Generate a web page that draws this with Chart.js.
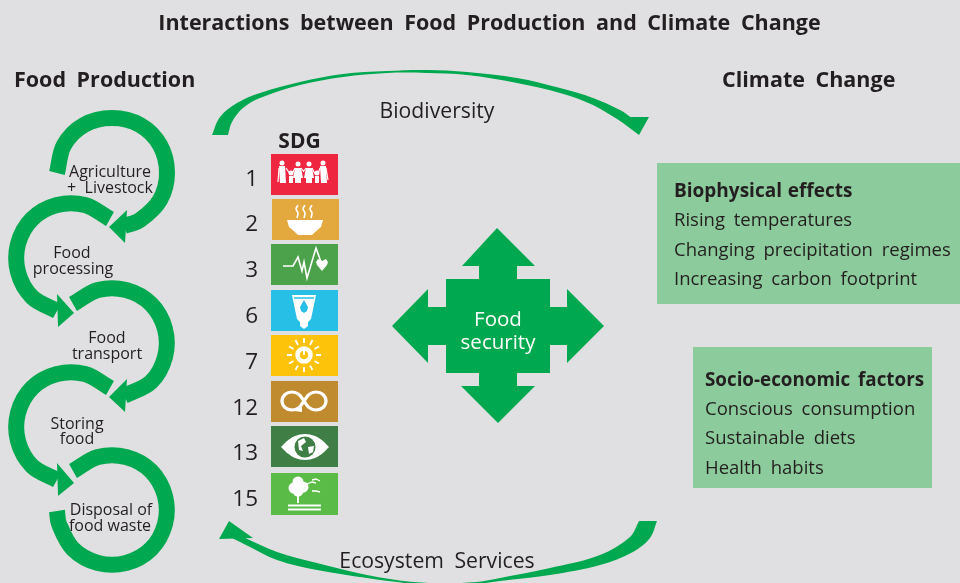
<!DOCTYPE html>
<html>
<head>
<meta charset="utf-8">
<title>Interactions between Food Production and Climate Change</title>
<script src="https://cdn.jsdelivr.net/npm/chart.js@4"></script>
<style>
html, body { margin: 0; padding: 0; background: #e0e0e2; overflow: hidden; }
canvas { display: block; }
</style>
</head>
<body>
<canvas id="diagram" width="960" height="583"></canvas>
<script>
// --- outlines, in picture units (x, y) ---
const ring1 = [[57,173],[64,145],[84,125],[112,118],[140,125],[160,145],[167,173],[160,200],[140,220],[124,226]];
const ring2 = [[110,219],[85,205],[57,205],[32,219],[18,244],[18,272],[32,297],[57,311]];
const ring3 = [[73,304],[98,290],[126,290],[151,304],[165,329],[165,357],[151,382],[124,396]];
const ring4 = [[110,388],[85,374],[57,374],[32,388],[18,413],[18,441],[32,466],[57,480]];
const ring5 = [[73,471],[98,457],[126,457],[151,471],[165,496],[165,524],[151,549],[126,563],[98,563],[73,549],[59,524],[57,511]];
const head1 = [[109,227],[127,210],[125,243]];
const head2 = [[74,313],[57,294],[58,327]];
const head3 = [[109,397],[127,379],[125,412]];
const head4 = [[74,483],[57,463],[58,496]];

// corners are listed twice so the curve stays sharp there
const biodiversityArc = [[212,135],[212,135],[220,117],[237,103],[260,93],[300,82],[343,74],[387,71],[427,70],[467,72],[517,78],[560,88],[593,98],[620,110],[632,118],[632,118],[622,122],[622,122],[593,105],[560,93],[517,83],[467,75],[427,73],[387,73],[343,77],[300,85],[260,98],[243,108],[232,122],[228,135],[228,135]];
const biodiversityHead = [[615,117],[649,117],[639,135]];
const ecosystemArc = [[657,521],[657,521],[650,538],[633,552],[600,565],[550,575],[500,581],[477,584],[445,587],[413,584],[367,578],[317,570],[277,560],[250,547],[238,541],[230,537],[230,537],[243,537],[243,537],[277,552],[317,563],[367,575],[413,582],[445,583],[477,582],[500,578],[550,568],[600,555],[630,537],[639,521],[639,521]];
const ecosystemHead = [[253,538],[229,521],[219,539]];
const securityCross = [[497,228],[462,266],[479,266],[479,279],[446,279],[446,307],[428,307],[428,289],[392,326],[428,363],[428,345],[446,345],[446,373],[479,373],[479,386],[461,386],[498,423],[535,386],[517,386],[517,373],[550,373],[550,345],[567,345],[567,363],[604,326],[567,289],[567,307],[550,307],[550,279],[517,279],[517,266],[535,266]];

const biophysicalBox = [[657,163],[960,163],[960,304],[657,304]];
const socioBox = [[693,347],[932,347],[932,488],[693,488]];

const sdgNumbers = ['1','2','3','6','7','12','13','15'];
const sdgColors = ['#ee2640','#e3a93f','#4ca14b','#27bfe6','#fdc30b','#bf8b2e','#3f7e44','#5bbb47'];
const sdgLeft = [271,272,271,271,271,271,271,271];
const sdgTop = [154,199,244,290,335,381,426,473];
const sdgBottom = [195,240,285,331,376,422,467,515];
const sdgNumberY = [178,223,269,315,361,407,452,498];

// tile icons
const familyHeads = [[282,163],[298,164],[309,164],[323,163],[291,173],[317,173]];
const familyBody1 = [[279,166],[285,166],[286,183],[280,183]];
const familyBody2 = [[295,168],[301,168],[303,178],[301,178],[301,183],[295,183],[295,178],[293,178]];
const familyBody3 = [[306,168],[312,168],[314,178],[312,178],[312,183],[306,183],[306,178],[304,178]];
const familyBody4 = [[320,166],[326,166],[327,183],[321,183]];
const familyKid1 = [[289,176],[293,176],[293,183],[289,183]];
const familyKid2 = [[315,176],[319,176],[319,183],[315,183]];
const familyArms = [[279,168],[278,182],[null,null],[286,168],[290,174],[null,null],[295,168],[292,174],[null,null],[301,168],[304,172],[null,null],[306,168],[303,172],[null,null],[312,168],[315,174],[null,null],[320,168],[318,174],[null,null],[326,168],[328,180]];
const bowl = [[287,220],[323,220],[321,227],[314,233],[312,235],[298,235],[296,233],[289,227]];
const steam = [[298,205],[296,209],[298,213],[297,218],[null,null],[305,205],[303,209],[305,213],[304,218],[null,null],[312,205],[310,209],[312,213],[311,218]];
const pulse = [[283,266],[293,266],[298,257],[302,271],[304,262],[307,278],[316,248],[321,262]];
const heart = [[316,262],[318,259],[322,261],[326,259],[328,262],[327,265],[322,271],[317,265]];
const glass = [[292,295],[316,295],[311,319],[308,322],[308,326],[304,329],[300,326],[300,322],[297,319]];
const waterLine = [[294,298],[314,298]];
const drop = [[304,300],[308,307],[307,311],[304,313],[301,311],[300,307]];
const sunRays = [[304,338],[304,343],[null,null],[312.5,340],[310,345],[null,null],[319,346.5],[314.5,349],[null,null],[321,355],[316,355],[null,null],[319,363.5],[314.5,361],[null,null],[312.5,370],[310,365.5],[null,null],[304,372],[304,367],[null,null],[295.5,370],[298,365.5],[null,null],[289,363.5],[293.5,361],[null,null],[287,355],[292,355],[null,null],[289,346.5],[293.5,349],[null,null],[295.5,340],[298,345]];
const sunCore = [[304,355]];
const sunPower = [[304,350],[304,355]];
const infinity = [[304,401],[309,394.5],[316,392],[323,394.5],[326,401],[323,407.5],[316,410],[309,407.5],[304,401],[299,394.5],[292,392],[285,394.5],[282,401],[285,407.5],[292,410],[299,407.5],[304,401]];
const infinityTip = [[302,404],[302,412],[294,411]];
const eye = [[281,447],[281,447],[287,441],[295,436],[305,434],[315,436],[323,441],[329,447],[329,447],[323,453],[315,458],[305,460],[295,458],[287,453]];
const globe = [[305,447]];
const landA = [[298,441],[304,438],[306,442],[301,446],[303,451],[299,450]];
const landB = [[308,447],[314,446],[313,452],[309,454]];
const treeTop = [[298,482],[294,488],[303,487],[298,491]];
const treeTrunk = [[298,495],[298,503]];
const groundLines = [[288,505.5],[321,505.5],[null,null],[288,509.5],[321,509.5]];
const birds = [[307,484],[312,482],[316,483],[null,null],[312,480],[316,479],[320,481],[null,null],[312,491],[316,491],[320,492]];

// --- texts ---
const headingTexts = ['Interactions between Food Production and Climate Change','Food Production','Climate Change','SDG','Biophysical effects','Socio-economic factors'];
const stepTexts = ['Agriculture','+  Livestock','Food','processing','Food','transport','Storing','food','Disposal of','food waste'];
const bodyTexts = ['Biodiversity','Ecosystem Services','Rising temperatures','Changing precipitation regimes','Increasing carbon footprint','Conscious consumption','Sustainable diets','Health habits'];

const GREEN = '#00a84f';
const INK = '#231f20';
const datasets = [];

function xy(points) {
    return points.map(p => ({ x: p[0], y: p[1] }));
}
function shape(points, color, tension) {
    datasets.push({ data: xy(points), showLine: true, fill: 'shape', backgroundColor: color, borderColor: color, borderWidth: 0, pointRadius: 0, tension: tension || 0 });
}
function stroke(points, color, width, tension) {
    datasets.push({ data: xy(points), showLine: true, fill: false, borderColor: color, borderWidth: width, borderCapStyle: 'butt', pointRadius: 0, tension: tension || 0, spanGaps: false });
}
function dots(points, color, radius, ringWidth, ringColor) {
    datasets.push({ data: xy(points), showLine: false, pointStyle: 'circle', pointRadius: radius, pointBackgroundColor: color, pointBorderColor: ringColor || color, pointBorderWidth: ringWidth || 0 });
}

// green loops on the left
[ring1, ring2, ring3, ring4, ring5].forEach(r => stroke(r, GREEN, 16, 0.35));
[head1, head2, head3, head4].forEach(h => shape(h, GREEN));
shape(biodiversityArc, GREEN, 0.35);
shape(biodiversityHead, GREEN);
shape(ecosystemArc, GREEN, 0.35);
shape(ecosystemHead, GREEN);
shape(securityCross, GREEN);
shape(biophysicalBox, '#8ccb9b');
shape(socioBox, '#8ccb9b');

// SDG tiles
sdgColors.forEach((color, i) => {
    const l = sdgLeft[i], r = l + 67;
    shape([[l, sdgTop[i]], [r, sdgTop[i]], [r, sdgBottom[i]], [l, sdgBottom[i]]], color);
});

// tile icons
dots(familyHeads, '#fff', 2.5);
[familyBody1, familyBody2, familyBody3, familyBody4, familyKid1, familyKid2].forEach(b => shape(b, '#fff'));
stroke(familyArms, '#fff', 1.2);
shape(bowl, '#fff');
stroke(steam, '#fff', 1.6, 0.3);
stroke(pulse, '#fff', 1.6);
shape(heart, '#fff');
shape(glass, '#fff');
stroke(waterLine, '#27bfe6', 1.5);
shape(drop, '#27bfe6');
stroke(sunRays, '#fff', 1.8);
dots(sunCore, 'rgba(0,0,0,0)', 6.5, 4.5, '#fff');
stroke(sunPower, '#fff', 2);
stroke(infinity, '#fff', 3.2, 0.35);
shape(infinityTip, '#fff');
shape(eye, '#fff', 0.35);
dots(globe, '#3f7e44', 10.5);
shape(landA, '#fff');
shape(landB, '#fff');
dots(treeTop, '#fff', 5.5);
stroke(treeTrunk, '#fff', 2);
stroke(groundLines, '#fff', 2);
stroke(birds, '#fff', 1.3);

// first dataset is painted last in Chart.js, so flip the list
datasets.reverse();

const textPlugin = {
    id: 'diagramText',
    afterDatasetsDraw(chart) {
        const ctx = chart.ctx, sx = chart.scales.x, sy = chart.scales.y;
        const put = (text, x, y, size, opts) => {
            const o = opts || {};
            ctx.font = (o.bold ? 'bold ' : '') + size + 'px "Open Sans"';
            ctx.fillStyle = o.color || INK;
            ctx.textAlign = o.align || 'left';
            ctx.textBaseline = 'middle';
            ctx.wordSpacing = (o.gap || 0) + 'px';
            // Open Sans sits a bit high on a middle baseline
            ctx.fillText(text, sx.getPixelForValue(x), sy.getPixelForValue(y + 1.6));
        };
        ctx.save();
        put(headingTexts[0], 489.5, 22, 21.5, { bold: true, align: 'center', gap: 5 });
        put(headingTexts[1], 14, 79, 21.5, { bold: true, gap: 5 });
        put(headingTexts[2], 722, 79, 21.5, { bold: true, gap: 5 });
        put(headingTexts[3], 299.5, 140, 21, { bold: true, align: 'center' });

        const stepX = [110, 110, 72, 73, 107, 107, 77, 77, 111, 110];
        const stepY = [171, 187, 252, 268, 337, 353, 423, 438, 509, 525];
        stepTexts.forEach((t, i) => put(t, stepX[i], stepY[i], 16, { align: 'center' }));

        sdgNumbers.forEach((n, i) => put(n, 258, sdgNumberY[i], 22.5, { align: 'right' }));

        put('Food', 498, 319, 20.5, { color: '#fff', align: 'center' });
        put('security', 498, 342, 20.5, { color: '#fff', align: 'center' });

        put(bodyTexts[0], 437, 110, 21.2, { align: 'center' });
        put(bodyTexts[1], 437, 560, 21.2, { align: 'center', gap: 5 });

        put(headingTexts[4], 674, 190, 19, { bold: true, gap: 1 });
        put(bodyTexts[2], 674, 219, 18.5, { gap: 4 });
        put(bodyTexts[3], 674, 249, 18.5, { gap: 4 });
        put(bodyTexts[4], 674, 278, 18.5, { gap: 4 });

        put(headingTexts[5], 705, 379, 18.8, { bold: true, gap: 3 });
        put(bodyTexts[5], 705, 408, 18.5, { gap: 4 });
        put(bodyTexts[6], 705, 437, 18.5, { gap: 4 });
        put(bodyTexts[7], 705, 467, 18.5, { gap: 4 });
        ctx.restore();
    }
};

new Chart(document.getElementById('diagram'), {
    type: 'scatter',
    data: { datasets: datasets },
    options: {
        responsive: false,
        animation: false,
        layout: { padding: 0, autoPadding: false },
        plugins: { legend: { display: false }, tooltip: { enabled: false }, title: { display: false } },
        scales: {
            x: { type: 'linear', min: 0, max: 960, display: false },
            y: { type: 'linear', min: 0, max: 583, reverse: true, display: false }
        }
    },
    plugins: [textPlugin]
});
</script>
</body>
</html>
